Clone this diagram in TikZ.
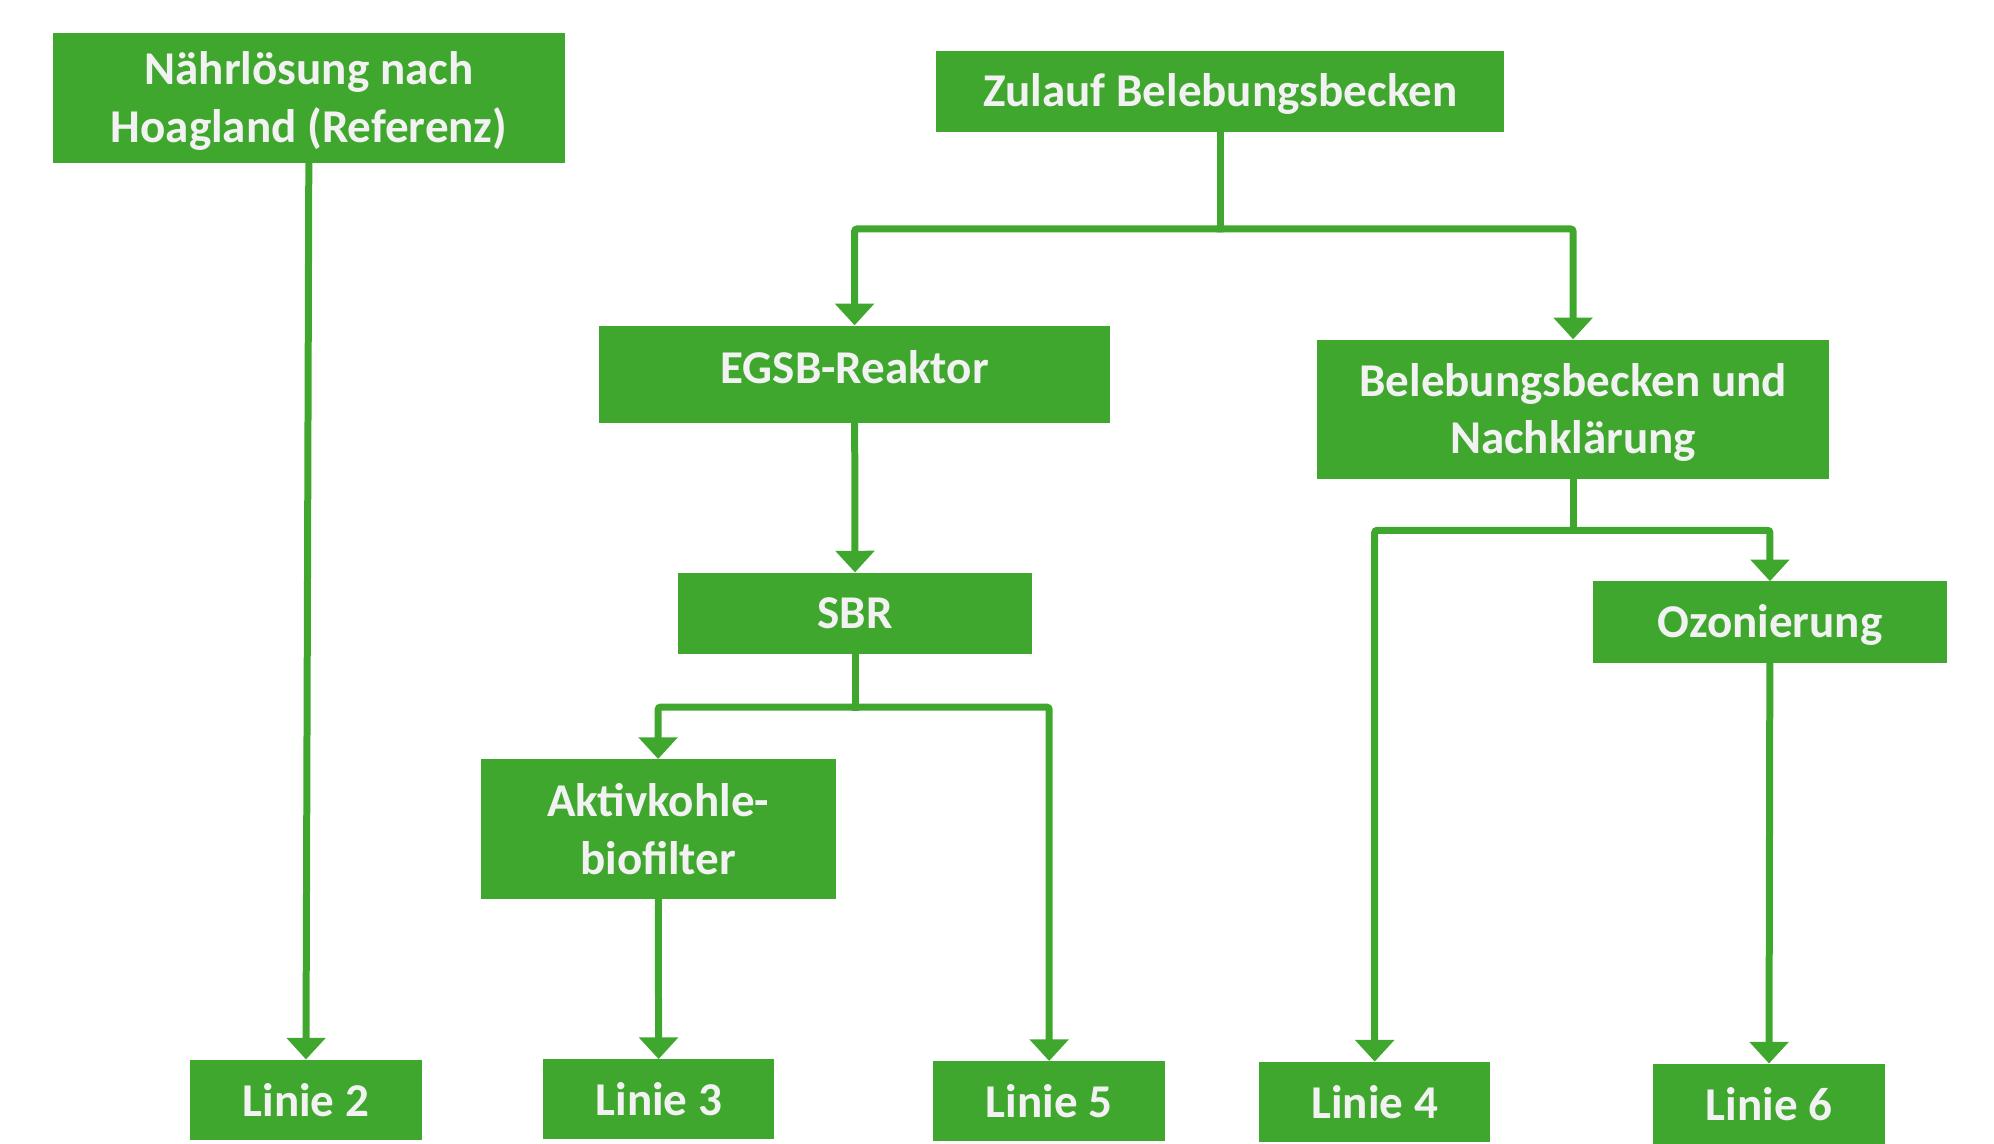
\documentclass[tikz,border=0pt]{standalone}
\usepackage{fontspec}
\setmainfont{Carlito}
\usetikzlibrary{arrows.meta}
\definecolor{gr}{RGB}{63,167,46}
\definecolor{tx}{RGB}{242,242,242}
\newcommand{\lowtxt}[1]{\raisebox{-3pt}[\height][\depth]{\begin{tabular}{@{}c@{}}#1\end{tabular}}}
\begin{document}
\begin{tikzpicture}[x=1pt,y=-1pt,
  box/.style={rectangle, fill=gr, inner sep=0pt, text=tx,
    font=\bfseries\fontsize{37}{45}\selectfont, align=center},
  bigbox/.style={box, minimum width=402pt},
  midbox/.style={box, minimum width=279pt, minimum height=64pt},
  endbox/.style={box, minimum width=182pt, minimum height=63pt},
  link/.style={draw=gr, line width=5.5pt, line cap=rect},
  conn/.style={link, rounded corners=2pt, -{Triangle[width=30pt,length=17pt]}}]
\useasboundingbox (0,0) rectangle (1568,899);
% boxes
\node[bigbox, minimum height=102pt] (naehr) at (243,77.3) {\lowtxt{Nährlösung nach\\Hoagland (Referenz)}};
\node[box, minimum width=447pt, minimum height=64pt] (zulauf) at (959.5,72) {\lowtxt{Zulauf Belebungsbecken}};
\node[bigbox, minimum height=77pt] (egsb) at (672,294.5) {\raisebox{6pt}[\height][\depth]{EGSB-Reaktor}};
\node[bigbox, minimum height=110pt] (bel) at (1237,322) {\lowtxt{Belebungsbecken und\\Nachklärung}};
\node[midbox] (sbr) at (672.4,482.3) {SBR};
\node[midbox] (ozon) at (1391.8,489.2) {\lowtxt{Ozonierung}};
\node[midbox, minimum height=110pt] (aktiv) at (517.5,652) {Aktivkohle-\\biofilter};
\node[endbox] (l2) at (240.5,864.8) {Linie 2};
\node[endbox] (l3) at (518,864.5) {Linie 3};
\node[endbox] (l5) at (825,866) {Linie 5};
\node[endbox] (l4) at (1081,866.5) {Linie 4};
\node[endbox] (l6) at (1391,868) {Linie 6};
% junctions
\coordinate (j1) at (959.5,180);
\coordinate (j2) at (672.4,556);
\coordinate (j3) at (1237,417);
% connectors
\draw[link] (zulauf) -- (j1);
\draw[conn] (j1) -| (egsb);
\draw[conn] (j1) -| (bel);
\draw[conn] (egsb) -- (sbr);
\draw[link] (sbr) -- (j2);
\draw[conn] (j2) -| (aktiv);
\draw[conn] (j2) -| (l5);
\draw[conn] (aktiv) -- (l3);
\draw[conn] (naehr) -- (l2);
\draw[link] (bel) -- (j3);
\draw[conn] (j3) -| (l4);
\draw[conn] (j3) -| (ozon);
\draw[conn] (ozon) -- (l6);
\end{tikzpicture}
\end{document}
